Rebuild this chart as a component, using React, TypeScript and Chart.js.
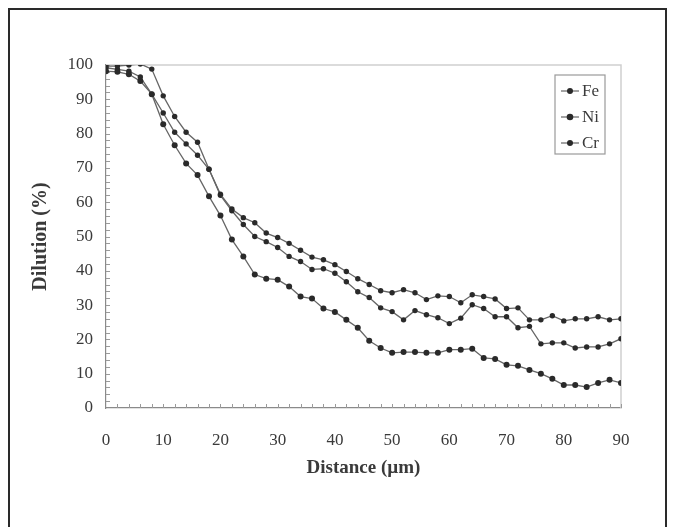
import React, { useEffect, useRef } from "react";
import { Chart, registerables } from "chart.js";

Chart.register(...registerables);

const distance = [0, 2, 4, 6, 8, 10, 12, 14, 16, 18, 20, 22, 24, 26, 28, 30, 32, 34, 36, 38, 40, 42, 44, 46, 48, 50, 52, 54, 56, 58, 60, 62, 64, 66, 68, 70, 72, 74, 76, 78, 80, 82, 84, 86, 88, 90];

const fe = [99.7, 99.7, 100, 100.3, 98.8, 91, 85, 80.4, 77.5, 69.6, 62.3, 58, 55.5, 54, 51, 49.7, 48, 46, 44, 43.2, 41.8, 39.8, 37.7, 36, 34.2, 33.6, 34.5, 33.6, 31.6, 32.7, 32.5, 30.7, 33, 32.5, 31.8, 29, 29.2, 25.7, 25.7, 26.9, 25.4, 26, 26, 26.6, 25.7, 26];

const ni = [98.2, 98, 97.3, 95.3, 91.5, 82.7, 76.6, 71.3, 67.9, 61.7, 56.1, 49.1, 44.2, 38.9, 37.7, 37.4, 35.4, 32.5, 31.9, 29, 28, 25.7, 23.4, 19.6, 17.5, 16.1, 16.3, 16.3, 16.1, 16.1, 17, 17, 17.3, 14.6, 14.3, 12.6, 12.3, 11.1, 10, 8.5, 6.7, 6.7, 6.1, 7.3, 8.2, 7.3];

const cr = [99.2, 98.7, 98.2, 96.5, 91.5, 86, 80.4, 77, 73.7, 69.6, 62, 57.5, 53.5, 50, 48.5, 46.8, 44.2, 42.7, 40.4, 40.6, 39.3, 36.8, 33.9, 32.2, 29.2, 28.1, 25.7, 28.4, 27.2, 26.3, 24.6, 26.2, 30.1, 29, 26.6, 26.6, 23.4, 23.8, 18.7, 19, 19, 17.5, 17.8, 17.8, 18.7, 20.2];

const seriesNames = ["Fe", "Ni", "Cr"];
const xTicks = [0, 10, 20, 30, 40, 50, 60, 70, 80, 90];
const yTicks = [0, 10, 20, 30, 40, 50, 60, 70, 80, 90, 100];

const textColor = "#3a3a3a";
const lineColor = "#666666";
const markColor = "#2a2a2a";
const serif = "'Liberation Serif', serif";

const decoPlugin = {
  id: "deco",
  beforeDatasetsDraw(chart: any) {
    const { ctx, chartArea, scales } = chart;
    const x = scales.x;
    const y = scales.y;
    ctx.save();
    ctx.strokeStyle = "#cfcfcf";
    ctx.lineWidth = 1.5;
    ctx.beginPath();
    ctx.moveTo(chartArea.left, chartArea.top);
    ctx.lineTo(chartArea.right, chartArea.top);
    ctx.lineTo(chartArea.right, chartArea.bottom);
    ctx.stroke();
    ctx.strokeStyle = "#9a9a9a";
    ctx.lineWidth = 1;
    ctx.beginPath();
    for (let v = 2; v <= 90; v += 2) {
      const px = Math.round(x.getPixelForValue(v)) + 0.5;
      ctx.moveTo(px, chartArea.bottom);
      ctx.lineTo(px, chartArea.bottom - 4);
    }
    for (let v = 2; v <= 100; v += 2) {
      const py = Math.round(y.getPixelForValue(v)) + 0.5;
      ctx.moveTo(chartArea.left, py);
      ctx.lineTo(chartArea.left + 4, py);
    }
    ctx.stroke();
    ctx.restore();
  },
  afterDraw(chart: any) {
    const { ctx, chartArea } = chart;
    const boxR = chartArea.right - 16;
    const boxL = boxR - 50;
    const boxT = chartArea.top + 10;
    const boxB = boxT + 79;
    ctx.save();
    ctx.fillStyle = "#ffffff";
    ctx.fillRect(boxL, boxT, boxR - boxL, boxB - boxT);
    ctx.strokeStyle = "#9a9a9a";
    ctx.lineWidth = 1.2;
    ctx.strokeRect(boxL, boxT, boxR - boxL, boxB - boxT);
    chart.data.datasets.forEach((ds: any, i: number) => {
      const cy = boxT + 16 + i * 26;
      ctx.strokeStyle = lineColor;
      ctx.lineWidth = 1.2;
      ctx.beginPath();
      ctx.moveTo(boxL + 6, cy);
      ctx.lineTo(boxL + 24, cy);
      ctx.stroke();
      ctx.fillStyle = markColor;
      ctx.beginPath();
      ctx.arc(boxL + 15, cy, ds.pointRadius + 0.3, 0, Math.PI * 2);
      ctx.fill();
      ctx.fillStyle = textColor;
      ctx.font = "17px " + serif;
      ctx.textBaseline = "middle";
      ctx.textAlign = "left";
      ctx.fillText(ds.label, boxL + 27, cy + 1);
    });
    ctx.restore();
  },
};

export default function App() {
  const ref = useRef<HTMLCanvasElement | null>(null);
  useEffect(() => {
    if (!ref.current) return;
    const mk = (label: string, values: number[], r: number) => ({
      label,
      data: distance.map((d, i) => ({ x: d, y: values[i] })),
      borderColor: lineColor,
      borderWidth: 1.3,
      pointRadius: r,
      pointBackgroundColor: markColor,
      pointBorderColor: markColor,
      pointBorderWidth: 0,
      showLine: true,
      tension: 0,
    });
    const chart = new Chart(ref.current, {
      type: "scatter",
      data: {
        datasets: [mk(seriesNames[0], fe, 2.7), mk(seriesNames[1], ni, 3), mk(seriesNames[2], cr, 2.7)],
      },
      options: {
        animation: false,
        responsive: false,
        devicePixelRatio: 1,
        layout: { padding: { left: 0, right: 44, top: 55, bottom: 0 } },
        plugins: { legend: { display: false }, tooltip: { enabled: false } },
        scales: {
          x: {
            type: "linear",
            min: 0,
            max: 90,
            afterFit: (s: any) => {
              s.height = 119;
            },
            afterBuildTicks: (s: any) => {
              s.ticks = xTicks.map((v) => ({ value: v }));
            },
            grid: { display: true, drawOnChartArea: false, drawTicks: false },
            border: { display: true, color: "#8a8a8a", width: 1.2 },
            ticks: {
              padding: 22,
              color: textColor,
              font: { family: serif, size: 17 },
            },
            title: {
              display: true,
              text: "Distance (µm)",
              color: textColor,
              font: { family: serif, size: 19, weight: "bold" },
              padding: { top: 0, bottom: 48 },
            },
          },
          y: {
            type: "linear",
            min: 0,
            max: 100,
            afterFit: (s: any) => {
              s.width = 96;
            },
            afterBuildTicks: (s: any) => {
              s.ticks = yTicks.map((v) => ({ value: v }));
            },
            grid: { display: true, drawOnChartArea: false, drawTicks: false },
            border: { display: true, color: "#8a8a8a", width: 1.2 },
            ticks: {
              padding: 13,
              color: textColor,
              font: { family: serif, size: 17 },
            },
            title: {
              display: true,
              text: "Dilution (%)",
              color: textColor,
              font: { family: serif, size: 20, weight: "bold" },
              padding: { top: 19, bottom: 0 },
            },
          },
        },
      },
      plugins: [decoPlugin],
    } as any);
    return () => chart.destroy();
  }, []);
  return (
    <div
      style={{
        position: "relative",
        width: 659,
        height: 519,
        boxSizing: "border-box",
        borderTop: "2px solid #2a2a2a",
        borderLeft: "2px solid #2a2a2a",
        borderRight: "2px solid #2a2a2a",
        background: "#fff",
      }}
    >
      <canvas ref={ref} width={655} height={517} style={{ display: "block", width: 655, height: 517 }} />
    </div>
  );
}
